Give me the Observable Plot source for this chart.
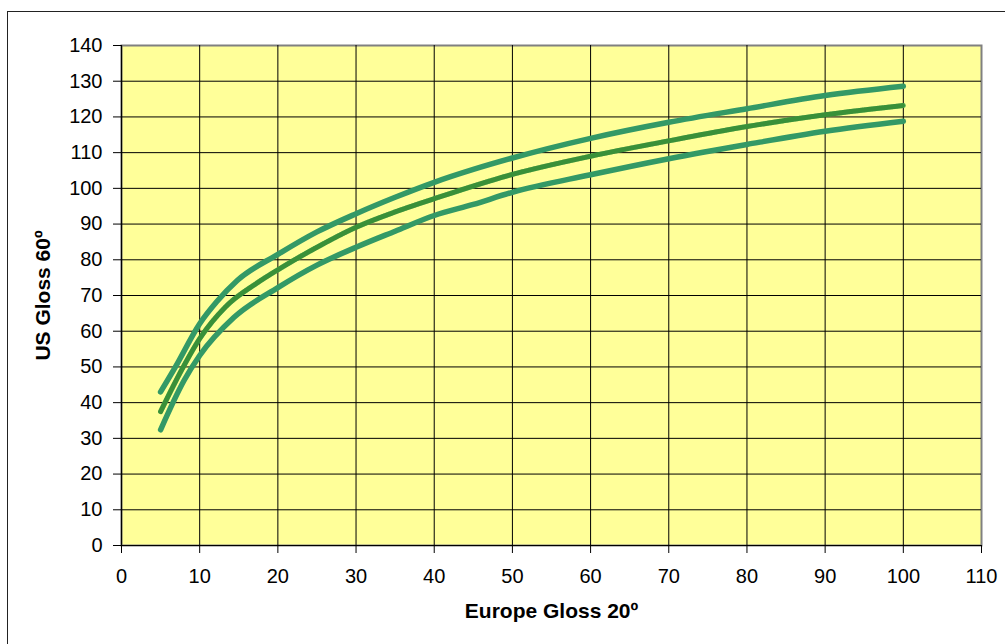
<!DOCTYPE html>
<html>
<head>
<meta charset="utf-8">
<script src="https://cdn.jsdelivr.net/npm/d3@7"></script>
<script src="https://cdn.jsdelivr.net/npm/@observablehq/plot@0.6"></script>
<style>
  html, body { margin: 0; padding: 0; background: #fff; overflow: hidden; }
  #wrap { position: relative; width: 1005px; height: 644px; overflow: hidden; }
  #frame { position: absolute; left: 7px; top: 11px; width: 1010px; height: 650px; border: 1px solid #222; box-sizing: border-box; }
  #chart { position: absolute; left: 0; top: 0; }
  #chart svg g[aria-label="x-axis tick label"] text, #chart svg g[aria-label="y-axis tick label"] text { font-size: 20px; }
  #chart svg g[aria-label="x-axis label"] text, #chart svg g[aria-label="y-axis label"] text { font-weight: bold; font-size: 21px; }
</style>
</head>
<body>
<div id="wrap"><div id="frame"></div><div id="chart"></div></div>
<script>
const upperX = [5, 6.9, 10, 12.2, 14.8, 20, 25, 30, 35, 40, 45, 50, 60, 70, 80, 90, 100];
const upperY = [43, 50, 62.1, 68.3, 74.2, 81.5, 87.8, 92.9, 97.5, 101.7, 105.3, 108.5, 114, 118.5, 122.3, 126, 128.6];
const middleX = [5, 8, 10, 13.3, 17.4, 20, 25, 30, 35, 40, 50, 60, 70, 80, 90, 100];
const middleY = [37.5, 50.4, 57.9, 66.8, 73.6, 77.2, 83.5, 89.1, 93.4, 97.1, 103.9, 109, 113.3, 117.3, 120.6, 123.2];
const lowerX = [5, 8, 10, 14.4, 20, 25, 30, 35, 40, 45, 50, 60, 70, 80, 90, 100];
const lowerY = [32.4, 46.2, 53.2, 63.9, 72.2, 78.5, 83.5, 88, 92.4, 95.5, 98.9, 103.8, 108.3, 112.3, 116, 118.8];
const xTicks = [0, 10, 20, 30, 40, 50, 60, 70, 80, 90, 100, 110];
const yTicks = [0, 10, 20, 30, 40, 50, 60, 70, 80, 90, 100, 110, 120, 130, 140];
const xTitle = "Europe Gloss 20º";
const yTitle = "US Gloss 60º";

const toRows = (xs, ys) => xs.map((x, i) => ({x, y: ys[i]}));
const upper = toRows(upperX, upperY);
const middle = toRows(middleX, middleY);
const lower = toRows(lowerX, lowerY);

const chart = Plot.plot({
  width: 1005,
  height: 644,
  marginLeft: 121,
  marginRight: 24,
  marginTop: 45,
  marginBottom: 99,
  style: {fontFamily: "'Liberation Sans', Arial, sans-serif", fontSize: "20px", background: "transparent", color: "#000"},
  x: {domain: [0, 110]},
  y: {domain: [0, 140]},
  marks: [
    Plot.frame({fill: "#FFFF99", stroke: "#808080", strokeWidth: 2}),
    Plot.ruleX(xTicks.filter(d => d > 0 && d < 110), {stroke: "#000", strokeWidth: 1}),
    Plot.ruleY(yTicks.filter(d => d > 0 && d < 140), {stroke: "#000", strokeWidth: 1}),
    Plot.line(upper, {x: "x", y: "y", stroke: "#339966", strokeWidth: 5.5, curve: "monotone-x"}),
    Plot.line(lower, {x: "x", y: "y", stroke: "#339966", strokeWidth: 5.5, curve: "monotone-x"}),
    Plot.line(middle, {x: "x", y: "y", stroke: "#55b355", strokeWidth: 5, curve: "monotone-x"}),
    Plot.line(middle, {x: "x", y: "y", stroke: "#1d6e1d", strokeWidth: 5, strokeDasharray: "1,1.5", strokeOpacity: 0.5, curve: "monotone-x"}),
    Plot.ruleX([0], {stroke: "#000", strokeWidth: 1.2}),
    Plot.ruleY([0], {stroke: "#000", strokeWidth: 1.2}),
    Plot.axisX({ticks: xTicks, tickSize: 8, tickPadding: 15, fontSize: 20, label: xTitle, labelAnchor: "center", labelArrow: "none", labelOffset: 72}),
    Plot.axisY({ticks: yTicks, tickSize: 8, tickPadding: 11, fontSize: 20, label: yTitle, labelAnchor: "center", labelArrow: "none", labelOffset: 86})
  ]
});
document.getElementById("chart").appendChild(chart);
</script>
</body>
</html>
